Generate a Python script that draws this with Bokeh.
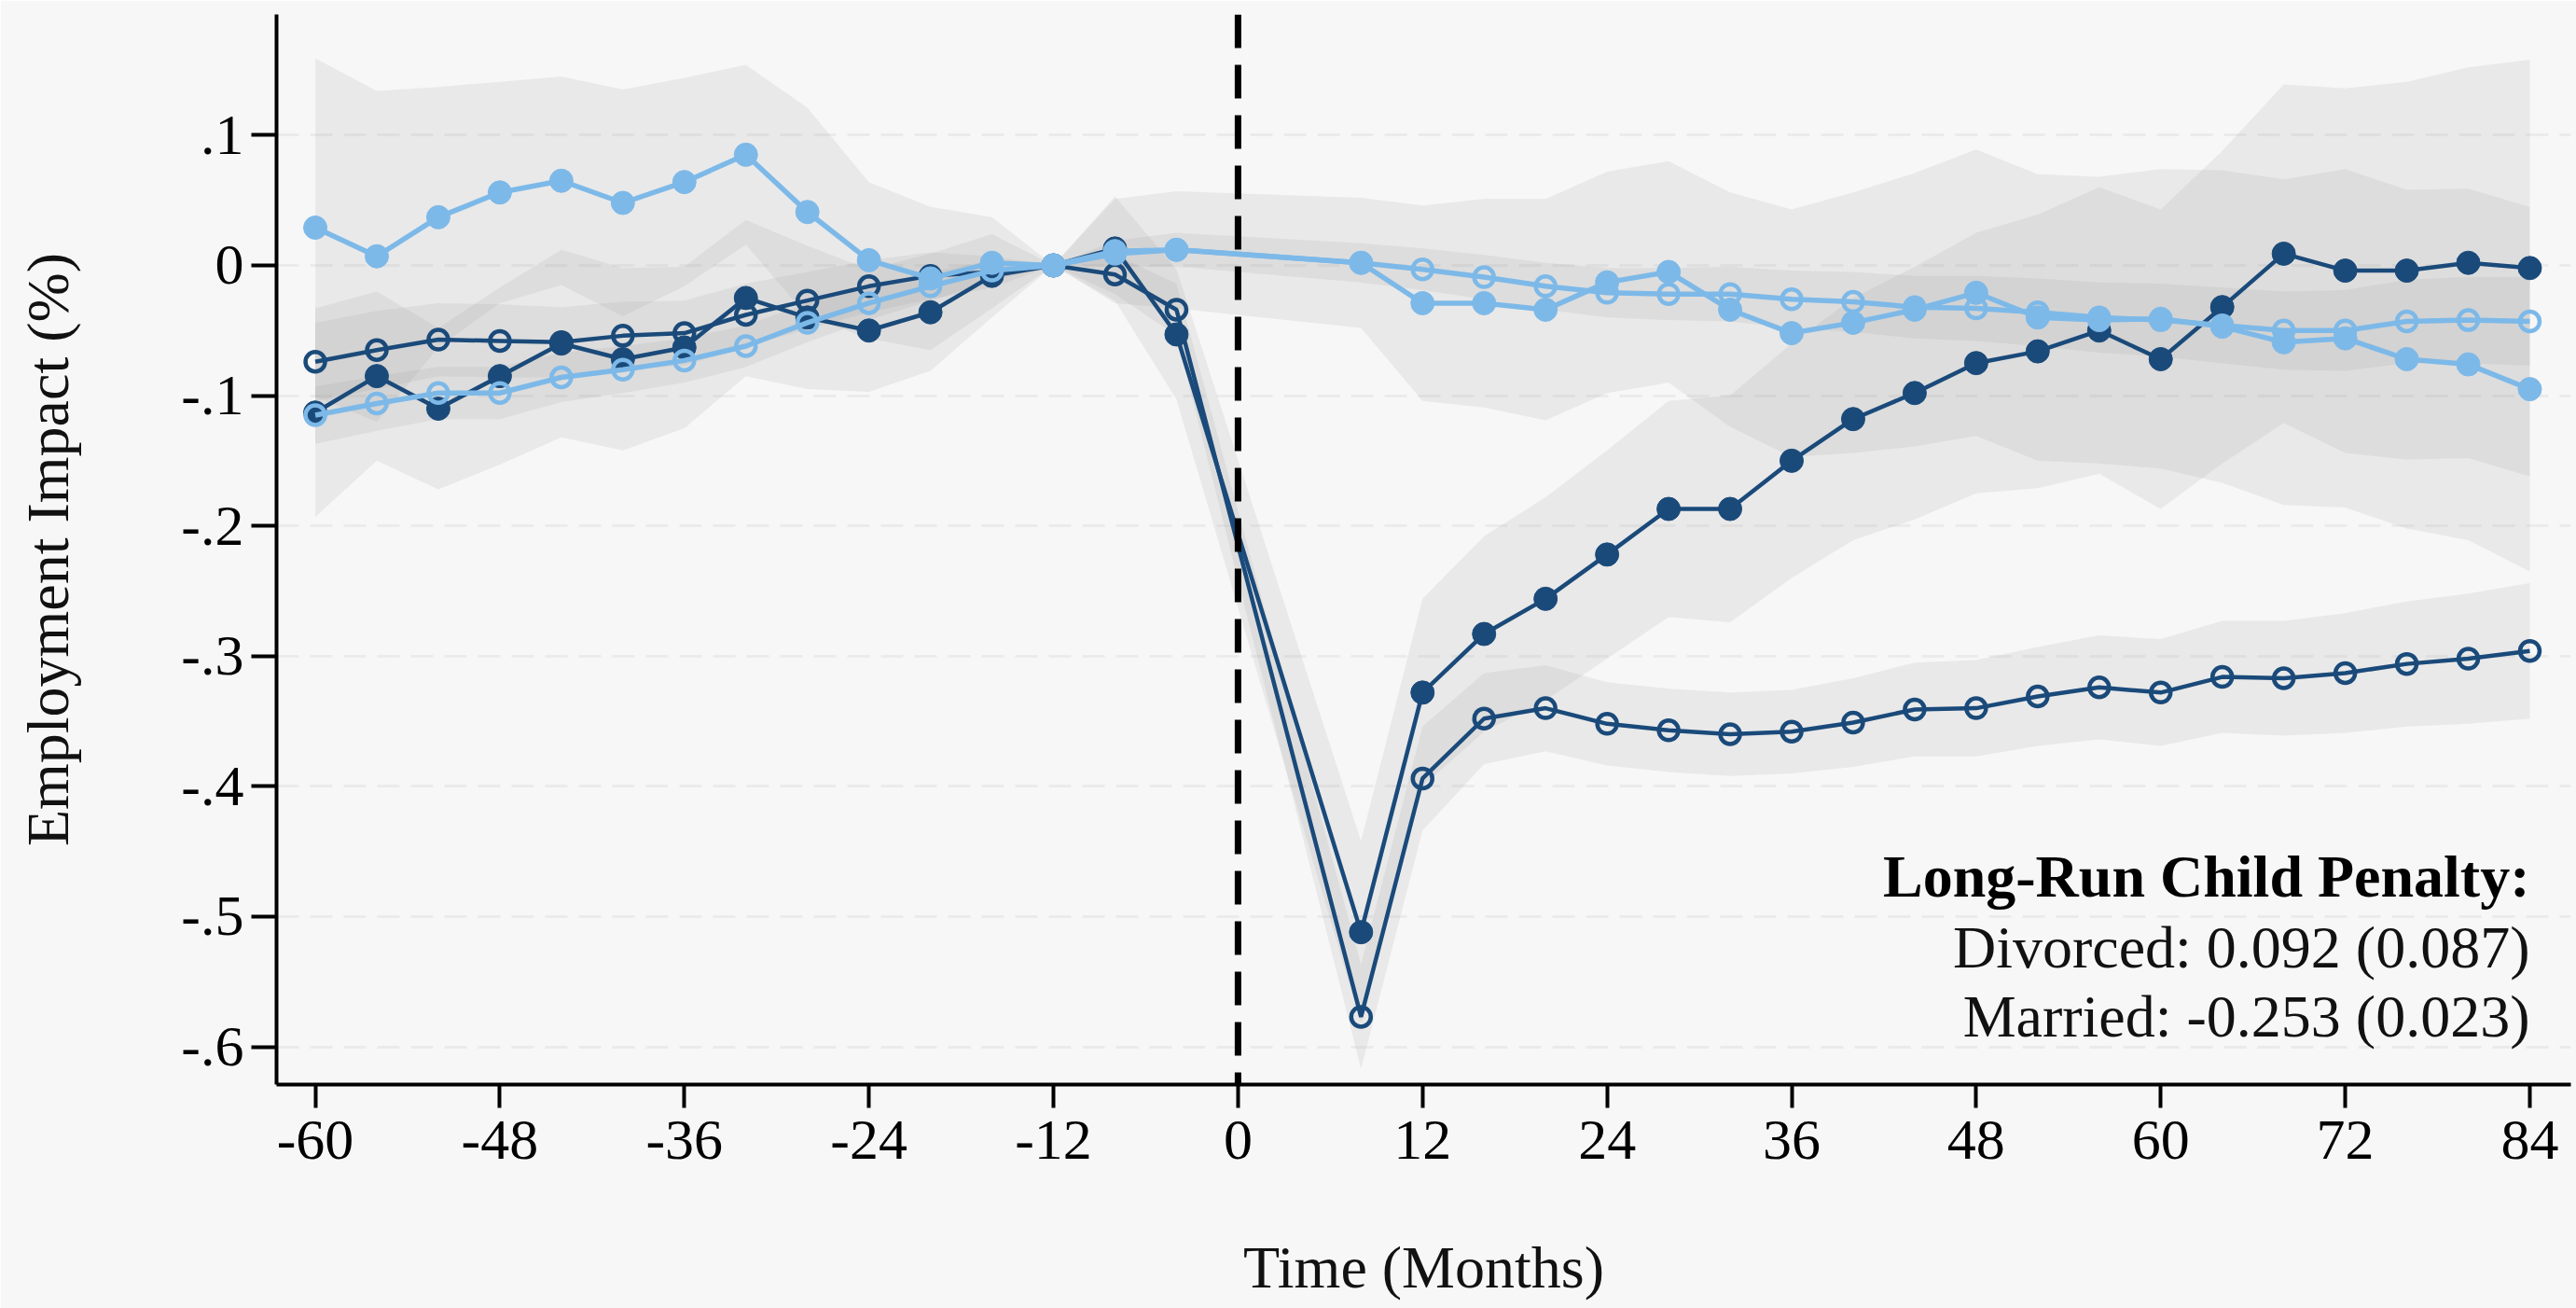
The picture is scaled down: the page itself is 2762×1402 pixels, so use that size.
from bokeh.plotting import figure
from bokeh.models import Range1d, FixedTicker, Span, Label
from bokeh.embed import file_html
from bokeh.resources import INLINE

# ---- data ----
months = [-60, -56, -52, -48, -44, -40, -36, -32, -28, -24, -20, -16, -12, -8, -4,
          8, 12, 16, 20, 24, 28, 32, 36, 40, 44, 48, 52, 56, 60, 64, 68, 72, 76, 80, 84]

# Divorced women (dark, filled)
div_women = [-0.113, -0.085, -0.110, -0.085, -0.060, -0.072, -0.063, -0.025, -0.040, -0.050,
             -0.036, -0.008, 0.000, 0.013, -0.053,
             -0.512, -0.328, -0.283, -0.256, -0.222, -0.187, -0.187, -0.150, -0.118, -0.098,
             -0.075, -0.066, -0.050, -0.072, -0.032, 0.009, -0.004, -0.004, 0.002, -0.002]
div_women_ci = [0.080, 0.065, 0.062, 0.068, 0.072, 0.070, 0.062, 0.060, 0.055, 0.047,
                0.045, 0.032, 0.000, 0.040, 0.050,
                0.070, 0.072, 0.075, 0.078, 0.080, 0.083, 0.087, 0.090, 0.093, 0.097,
                0.100, 0.105, 0.110, 0.115, 0.120, 0.130, 0.140, 0.145, 0.150, 0.160]

# Married women (dark, hollow)
mar_women = [-0.074, -0.065, -0.057, -0.058, -0.059, -0.054, -0.052, -0.038, -0.027, -0.016,
             -0.008, -0.005, 0.000, -0.007, -0.034,
             -0.577, -0.394, -0.348, -0.340, -0.352, -0.357, -0.360, -0.358, -0.351, -0.341,
             -0.340, -0.331, -0.324, -0.328, -0.316, -0.317, -0.313, -0.306, -0.302, -0.296]
mar_women_ci = [0.030, 0.030, 0.028, 0.028, 0.027, 0.026, 0.025, 0.024, 0.022, 0.020,
                0.018, 0.012, 0.000, 0.015, 0.020,
                0.040, 0.040, 0.035, 0.033, 0.032, 0.032, 0.032, 0.032, 0.034, 0.036,
                0.037, 0.038, 0.040, 0.041, 0.043, 0.044, 0.046, 0.048, 0.050, 0.052]

# Divorced men (light, filled)
div_men = [0.029, 0.007, 0.037, 0.056, 0.065, 0.048, 0.064, 0.085, 0.041, 0.004,
           -0.010, 0.002, 0.000, 0.011, 0.012,
           0.002, -0.029, -0.029, -0.034, -0.013, -0.005, -0.034, -0.052, -0.044, -0.034,
           -0.021, -0.040, -0.042, -0.041, -0.047, -0.059, -0.056, -0.072, -0.076, -0.095]
div_men_ci = [0.130, 0.127, 0.100, 0.085, 0.080, 0.087, 0.080, 0.069, 0.080, 0.060,
              0.055, 0.035, 0.000, 0.040, 0.045,
              0.050, 0.075, 0.080, 0.085, 0.085, 0.085, 0.090, 0.095, 0.100, 0.105,
              0.110, 0.110, 0.110, 0.115, 0.120, 0.125, 0.130, 0.130, 0.135, 0.140]

# Married men (light, hollow)
mar_men = [-0.115, -0.106, -0.098, -0.098, -0.086, -0.080, -0.073, -0.062, -0.044, -0.029,
           -0.016, -0.004, 0.000, 0.009, 0.012,
           0.002, -0.003, -0.009, -0.016, -0.021, -0.022, -0.022, -0.026, -0.028, -0.032,
           -0.033, -0.036, -0.040, -0.042, -0.046, -0.050, -0.050, -0.043, -0.042, -0.043]
mar_men_ci = [0.022, 0.021, 0.020, 0.020, 0.019, 0.018, 0.017, 0.016, 0.015, 0.013,
              0.011, 0.008, 0.000, 0.010, 0.013,
              0.015, 0.016, 0.017, 0.018, 0.019, 0.020, 0.021, 0.022, 0.023, 0.024,
              0.025, 0.026, 0.027, 0.028, 0.029, 0.030, 0.031, 0.032, 0.033, 0.034]

x_ticks = [-60, -48, -36, -24, -12, 0, 12, 24, 36, 48, 60, 72, 84]
y_ticks = [0.1, 0.0, -0.1, -0.2, -0.3, -0.4, -0.5, -0.6]
y_tick_labels = [".1", "0", "-.1", "-.2", "-.3", "-.4", "-.5", "-.6"]

x_title = "Time (Months)"
y_title = "Employment Impact (%)"
title_text = "Long-Run Child Penalty:"
note_lines = ["Divorced: 0.092 (0.087)", "Married: -0.253 (0.023)"]

# ---- styling ----
FONT = "Liberation Serif"
BG = "#f7f7f7"
DARK = "#1a4a7a"
LIGHT = "#7db9e8"
BAND = "#9a9a9a"

p = figure(width=2762, height=1402,
           x_range=Range1d(-62.52, 86.67), y_range=Range1d(-0.629, 0.1927),
           output_backend="svg", toolbar_location=None,
           min_border_left=296, min_border_right=6, min_border_top=15, min_border_bottom=240,
           background_fill_color=BG, border_fill_color=BG)
p.outline_line_color = None
p.xgrid.visible = False
p.ygrid.ticker = FixedTicker(ticks=y_ticks)
p.ygrid.grid_line_color = "#ebebeb"
p.ygrid.grid_line_width = 3
p.ygrid.grid_line_dash = "24 12"

# confidence bands
for mean, ci in [(div_women, div_women_ci), (mar_women, mar_women_ci),
                 (div_men, div_men_ci), (mar_men, mar_men_ci)]:
    lo = [m - c for m, c in zip(mean, ci)]
    hi = [m + c for m, c in zip(mean, ci)]
    p.varea(x=months, y1=lo, y2=hi, fill_color=BAND, fill_alpha=0.15)

# vertical line at birth
p.add_layout(Span(location=0, dimension="height", line_color="black",
                  line_width=7, line_dash="36 18"))

# series
p.line(months, mar_women, line_color=DARK, line_width=4.5)
p.scatter(months, mar_women, marker="circle", size=21, fill_alpha=0,
          line_color=DARK, line_width=4.5)
p.line(months, div_women, line_color=DARK, line_width=4.5)
p.scatter(months, div_women, marker="circle", size=25, fill_color=DARK,
          line_color=DARK, line_width=1)
p.line(months, mar_men, line_color=LIGHT, line_width=5.5)
p.scatter(months, mar_men, marker="circle", size=21, fill_alpha=0,
          line_color=LIGHT, line_width=4.5)
p.line(months, div_men, line_color=LIGHT, line_width=5.5)
p.scatter(months, div_men, marker="circle", size=25, fill_color=LIGHT,
          line_color=LIGHT, line_width=1)

# axes
for ax in (p.xaxis[0], p.yaxis[0]):
    ax.axis_line_width = 4
    ax.axis_line_color = "black"
    ax.major_tick_line_width = 4
    ax.major_tick_line_color = "black"
    ax.major_tick_in = 0
    ax.minor_tick_line_color = None
    ax.major_label_text_font = FONT
    ax.major_label_text_font_size = "62px"
    ax.major_label_text_color = "black"
    ax.axis_label_text_font = FONT
    ax.axis_label_text_font_size = "64px"
    ax.axis_label_text_font_style = "normal"
    ax.axis_label_text_color = "#111111"

p.xaxis[0].ticker = FixedTicker(ticks=x_ticks)
p.xaxis[0].major_label_overrides = {t: str(t) for t in x_ticks}
p.xaxis[0].major_tick_out = 25
p.xaxis[0].major_label_standoff = 14
p.xaxis[0].axis_label = x_title
p.xaxis[0].axis_label_standoff = 78

p.yaxis[0].ticker = FixedTicker(ticks=y_ticks)
p.yaxis[0].major_label_overrides = dict(zip(y_ticks, y_tick_labels))
p.yaxis[0].major_tick_out = 27
p.yaxis[0].major_label_standoff = 8
p.yaxis[0].major_label_orientation = "horizontal"
p.yaxis[0].axis_label = y_title
p.yaxis[0].axis_label_standoff = 104

# annotation
p.add_layout(Label(x=84, y=-0.469, text=title_text, text_font=FONT,
                   text_font_style="bold", text_font_size="64px",
                   text_align="right", text_baseline="middle", text_color="black"))
for i, line in enumerate(note_lines):
    p.add_layout(Label(x=84, y=-0.524 - 0.053 * i, text=line, text_font=FONT,
                       text_font_size="64px", text_align="right",
                       text_baseline="middle", text_color="#111111"))

open("out.html", "w").write(file_html(p, INLINE))
